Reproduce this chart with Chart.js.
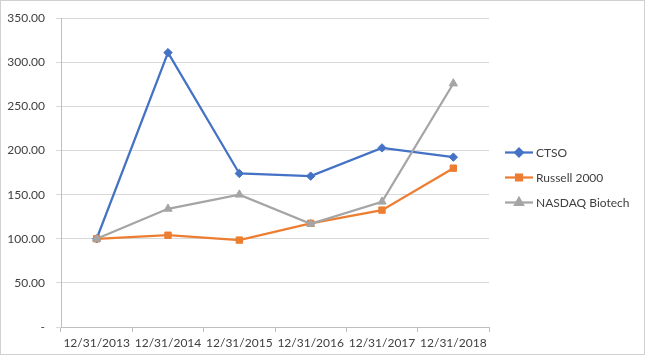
<!DOCTYPE html>
<html><head><meta charset="utf-8">
<script src="https://cdn.jsdelivr.net/npm/chart.js@4"></script>
<style>
html,body{margin:0;padding:0;background:#fff;}
#wrap{position:absolute;left:0;top:0;width:645px;height:355px;}
#frame{position:absolute;left:0;top:0;width:645px;height:355px;box-sizing:border-box;border:1px solid #d0d0d0;pointer-events:none;}
</style></head>
<body>
<div id="wrap"><canvas id="c" width="645" height="355"></canvas><div id="frame"></div></div>
<script>
const categories = ['12/31/2013','12/31/2014','12/31/2015','12/31/2016','12/31/2017','12/31/2018'];
const ctso = [100, 311, 174, 171, 203, 192.5];
const russell = [100, 104, 98.5, 117.5, 132.5, 180];
const nasdaq = [100, 134, 150, 117, 142, 276];
const seriesNames = ['CTSO','Russell 2000','NASDAQ Biotech'];
const yTicks = [0,50,100,150,200,250,300,350];

const FONT = 'Lato, "Liberation Sans", sans-serif';
const colors = ['#4472C4','#ED7D31','#A5A5A5'];
const styles = ['rectRot','rect','triangle'];
const radii = [4.2,4.5,4.8];

const legendPlugin = {
  id:'xlLegend',
  afterDraw(chart){
    const ctx = chart.ctx;
    const ys = [152.5,177.5,202.5];
    ctx.save();
    for(let i=0;i<3;i++){
      const y = ys[i];
      ctx.strokeStyle = colors[i]; ctx.lineWidth = 2.25;
      ctx.beginPath(); ctx.moveTo(505,y); ctx.lineTo(533,y); ctx.stroke();
      Chart.helpers.drawPoint(ctx,{pointStyle:styles[i],radius:radii[i]-0.3,borderWidth:1},519,y);
      ctx.fillStyle = colors[i];
      ctx.beginPath();
      Chart.helpers.drawPoint(ctx,{pointStyle:styles[i],radius:radii[i]-0.3,borderWidth:0},519,y);
      ctx.fillStyle = '#404040';
      ctx.font = '12px ' + FONT;
      ctx.textBaseline = 'middle'; ctx.textAlign = 'left';
      ctx.fillText(seriesNames[i], 536, y+0.5);
    }
    ctx.restore();
  }
};

const data = [ctso, russell, nasdaq];
new Chart(document.getElementById('c'), {
  type:'line',
  data:{
    labels:categories,
    datasets: data.map((d,i)=>({
      label:seriesNames[i], data:d,
      borderColor:colors[i], backgroundColor:colors[i],
      borderWidth:2.25, pointStyle:styles[i], pointRadius:radii[i],
      pointBorderColor:colors[i], pointBackgroundColor:colors[i], pointBorderWidth:1,
      tension:0, fill:false, order:2-i
    }))
  },
  options:{
    responsive:false, animation:false, devicePixelRatio:1,
    layout:{padding:{left:0,right:156,top:16,bottom:0}},
    plugins:{legend:{display:false}, tooltip:{enabled:false}},
    scales:{
      x:{
        offset:true,
        grid:{offset:true, drawOnChartArea:false, color:'#bfbfbf', tickLength:5, tickColor:'#bfbfbf'},
        border:{color:'#bfbfbf', width:1},
        ticks:{color:'#404040', font:{family:FONT,size:12}, padding:4, maxRotation:0, autoSkip:false},
        afterFit(s){ s.height = 28; }
      },
      y:{
        min:0, max:350,
        afterBuildTicks(s){ s.ticks = yTicks.map(v=>({value:v})); },
        grid:{color:'#d9d9d9', tickLength:5, tickColor:'#d9d9d9', lineWidth:1},
        border:{color:'#bfbfbf', width:1},
        ticks:{color:'#404040', font:{family:FONT,size:12}, padding:11,
          callback:(v)=> v===0 ? '-' : Number(v).toFixed(2)},
        afterFit(s){ s.width = 61; }
      }
    }
  },
  plugins:[legendPlugin]
});
</script>
</body></html>
